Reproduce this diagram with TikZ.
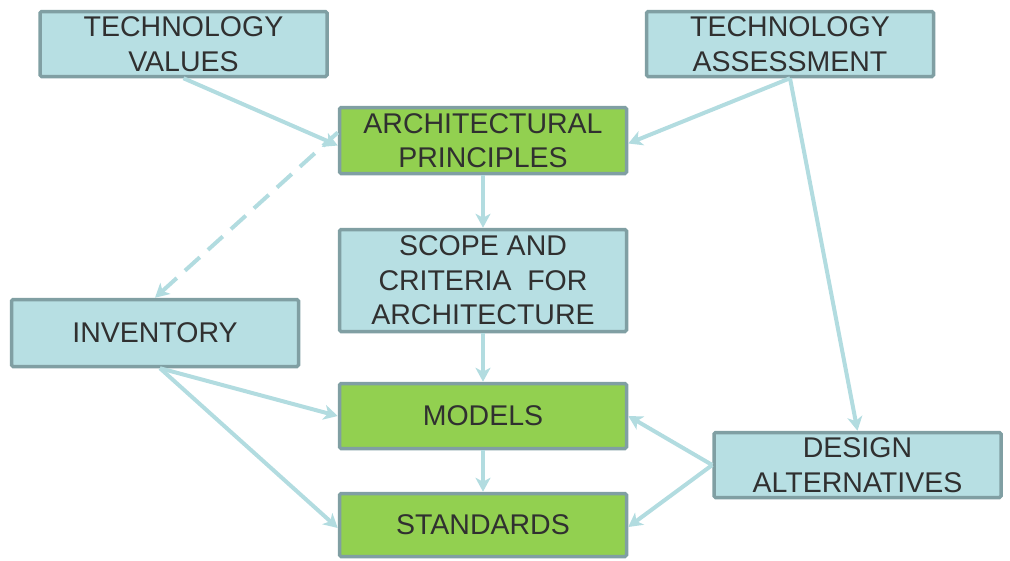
\documentclass[tikz,border=0pt]{standalone}
\usepackage{fontspec}
\setmainfont{Liberation Sans}
\usetikzlibrary{arrows.meta}
\definecolor{boxblue}{HTML}{B7DFE3}
\definecolor{boxgreen}{HTML}{92D050}
\definecolor{boxedge}{HTML}{809FA3}
\definecolor{arrowblue}{HTML}{B2DCE0}
\definecolor{txt}{HTML}{303030}
\begin{document}
\begin{tikzpicture}[x=1pt,y=-1pt,
  box/.style={draw=boxedge,line width=3.5pt,rounded corners=1.5pt,fill=boxblue,
    minimum width=287pt,align=center,text=txt,inner sep=0pt,
    font=\fontsize{28.5}{34.5}\selectfont},
  gbox/.style={box,fill=boxgreen},
  conn/.style={draw=arrowblue,line width=4pt,-{Stealth[length=14pt,width=15pt,inset=4pt]}},
  dconn/.style={conn,dash pattern=on 20pt off 11pt}]
\useasboundingbox (0,0) rectangle (1010,560);
\node[box,minimum height=65pt] (tv) at (183.5,44) {TECHNOLOGY\\VALUES};
\node[box,minimum height=65pt] (ta) at (790,44) {TECHNOLOGY\\ASSESSMENT};
\node[gbox,minimum height=66pt] (ap) at (483,140.5) {ARCHITECTURAL\\PRINCIPLES};
\node[box,minimum height=102pt] (sc) at (483,280.5) {SCOPE AND\\CRITERIA\ \ FOR\\ARCHITECTURE};
\node[box,minimum height=67pt] (inv) at (155,333) {INVENTORY};
\node[gbox,minimum height=65pt] (mo) at (483,416) {MODELS};
\node[gbox,minimum height=63pt] (st) at (483,525) {STANDARDS};
\node[box,minimum height=65pt] (da) at (857.5,465) {DESIGN\\ALTERNATIVES};
\draw[conn] (tv.south) -- ([yshift=-5pt]ap.west);
\draw[conn] (ta.south) -- ([yshift=-3pt]ap.east);
\draw[conn] (ta.south) -- (da.north);
\draw[dconn] ([yshift=8pt]ap.west) -- (inv.north);
\draw[conn] (ap.south) -- (sc.north);
\draw[conn] (sc.south) -- (mo.north);
\draw[conn] (mo.south) -- (st.north);
\draw[conn] ([xshift=5pt]inv.south) -- (mo.west);
\draw[conn] ([xshift=5pt]inv.south) -- ([yshift=-3pt]st.west);
\draw[conn] (da.west) -- (mo.east);
\draw[conn] (da.west) -- ([yshift=-2pt]st.east);
\end{tikzpicture}
\end{document}
